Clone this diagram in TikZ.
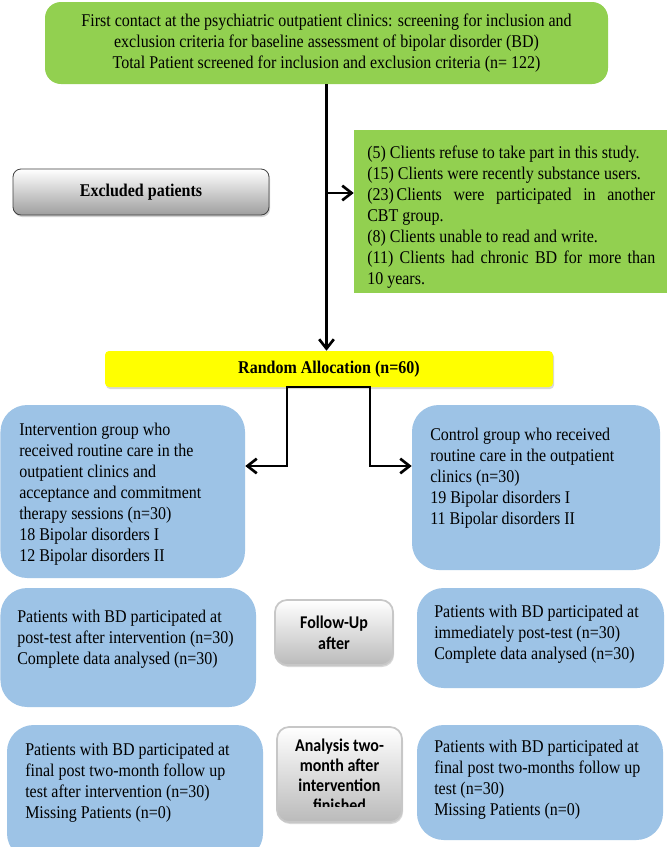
\documentclass[tikz,border=0pt]{standalone}
\usepackage{fontspec}
\usepackage{graphicx}
\setmainfont{Liberation Serif}
\newfontfamily\calibri{Carlito}
\usetikzlibrary{arrows.meta,fit,shadows}
\definecolor{grn}{HTML}{92D050}
\definecolor{blu}{HTML}{9DC3E6}
\definecolor{yel}{HTML}{FFFF00}
\newcommand\vs[1]{\scalebox{1}[1.12]{#1}}
\begin{document}
\begin{tikzpicture}[x=0.75pt,y=-0.75pt,
  every node/.style={font=\fontsize{12}{15.75}\selectfont},
  greenbox/.style={fill=grn, rounded corners=12pt, inner sep=0pt},
  exbox/.style={fill=grn, inner sep=0pt},
  exclgray/.style={draw=black!75, line width=0.6pt, top color=white, bottom color=black!38,
     rounded corners=6pt, inner sep=0pt,
     drop shadow={shadow xshift=0.8pt, shadow yshift=-1.5pt, opacity=0.35}},
  fugray/.style={draw=black!22, line width=1.3pt, top color=white, bottom color=black!27,
     rounded corners=9pt, inner sep=0pt,
     drop shadow={shadow xshift=0.8pt, shadow yshift=-1.5pt, opacity=0.3}},
  ctext/.style={inner sep=0pt, align=center},
  btitle/.style={inner sep=0pt, align=center, font=\bfseries\fontsize{12}{15.75}\selectfont},
  graytext/.style={inner sep=0pt, align=center, font=\calibri\bfseries\fontsize{12}{15.75}\selectfont},
  anatext/.style={inner sep=0pt, align=center, font=\calibri\bfseries\fontsize{12}{15}\selectfont},
  yelbox/.style={fill=yel, rounded corners=3pt, inner sep=0pt,
     drop shadow={shadow xshift=0.8pt, shadow yshift=-1.5pt, opacity=0.3}},
  bluebox/.style={fill=blu, rounded corners=20pt, inner sep=0pt},
  btext/.style={anchor=north west, inner sep=0pt, align=left},
  arr/.style={line width=2pt, -{Straight Barb[length=7pt,width=11pt]}}]
\clip (0,0) rectangle (667,847);
\fill[white] (0,0) rectangle (667,847);

% top box
\node[greenbox, fit={(45,2) (608,84)}] (top) {};
\node[ctext] (topt) at (top.center) {\vs{First contact at the psychiatric outpatient clinics: screening for inclusion and}\\
\vs{exclusion criteria for baseline assessment of bipolar disorder (BD)}\\
\vs{Total Patient screened for inclusion and exclusion criteria (n= 122)}};

% excluded
\node[exclgray, fit={(13,169) (269,215)}] (exl) {};
\node[btitle] (exlt) at (exl.center) {\vs{Excluded patients}};
\node[exbox, fit={(354,130) (667,293)}] (exc) {};
\node[btext] (exct) at (367,146) {\vs{(5) Clients refuse to take part in this study.}\\
\vs{(15) Clients were recently substance users.}\\
\vs{\makebox[216pt][s]{(23)\,Clients were participated in another}}\\
\vs{CBT group.}\\
\vs{(8) Clients unable to read and write.}\\
\vs{\makebox[216pt][s]{(11) Clients had chronic BD for more than}}\\
\vs{10 years.}};

% random allocation
\node[yelbox, fit={(105,351) (553,387)}] (ra) {};
\node[btitle] (rat) at (ra.center) {\vs{Random Allocation (n=60)}};

% row 1
\node[bluebox, fit={(0.5,405) (245,578)}] (int) {};
\node[btext] (intt) at (19,422.5) {\vs{Intervention group who}\\
\vs{received routine care in the}\\
\vs{outpatient clinics and}\\
\vs{acceptance and commitment}\\
\vs{therapy sessions (n=30)}\\
\vs{18 Bipolar disorders I}\\
\vs{12 Bipolar disorders II}};
\node[bluebox, fit={(412,405) (660,570)}] (ctl) {};
\node[btext] (ctlt) at (430,428) {\vs{Control group who received}\\
\vs{routine care in the outpatient}\\
\vs{clinics (n=30)}\\
\vs{19 Bipolar disorders I}\\
\vs{11 Bipolar disorders II}};

% row 2
\node[bluebox, fit={(0.5,588) (256,707)}] (pl) {};
\node[btext] (plt) at (17,610) {\vs{Patients with BD participated at}\\
\vs{post-test after intervention (n=30)}\\
\vs{Complete data analysed (n=30)}};
\node[fugray, fit={(275,600) (393,665)}] (fu) {};
\node[graytext] (fut) at (fu.center) {\vs{Follow-Up}\\\vs{after}};
\node[bluebox, fit={(417,588) (664,688)}] (pr) {};
\node[btext] (prt) at (434,605) {\vs{Patients with BD participated at}\\
\vs{immediately post-test (n=30)}\\
\vs{Complete data analysed (n=30)}};

% row 3
\node[bluebox, fit={(7,725) (263,860)}] (fl) {};
\node[btext] (flt) at (25,743) {\vs{Patients with BD participated at}\\
\vs{final post two-month follow up}\\
\vs{test after intervention (n=30)}\\
\vs{Missing Patients (n=0)}};
\node[fugray, fit={(277,727) (402,822)}] (ana) {};
\begin{scope}
\clip (277,727) rectangle (402,806);
\node[anatext, anchor=north] (anat) at (339.5,738.5) {\vs{Analysis two-}\\\vs{month after}\\\vs{intervention}\\\vs{finished}};
\end{scope}
\node[bluebox, fit={(417,725) (663,840)}] (fr) {};
\node[btext] (frt) at (434,740) {\vs{Patients with BD participated at}\\
\vs{final post two-months follow up}\\
\vs{test (n=30)}\\
\vs{Missing Patients (n=0)}};

% connectors
\draw[arr] (top.south) -- (top.south |- ra.north);
\coordinate (br) at (326.5,193);
\draw[arr] (br) -- (br -| exc.west);
\coordinate (sl) at (287,387);
\coordinate (sr) at (370,387);
\coordinate (jl) at (287,466);
\coordinate (jr) at (370,466);
\draw[arr] (sr) -- (sl) -- (jl) -- (jl -| int.east);
\draw[arr] (sl) -- (sr) -- (jr) -- (jr -| ctl.west);
\end{tikzpicture}
\end{document}
